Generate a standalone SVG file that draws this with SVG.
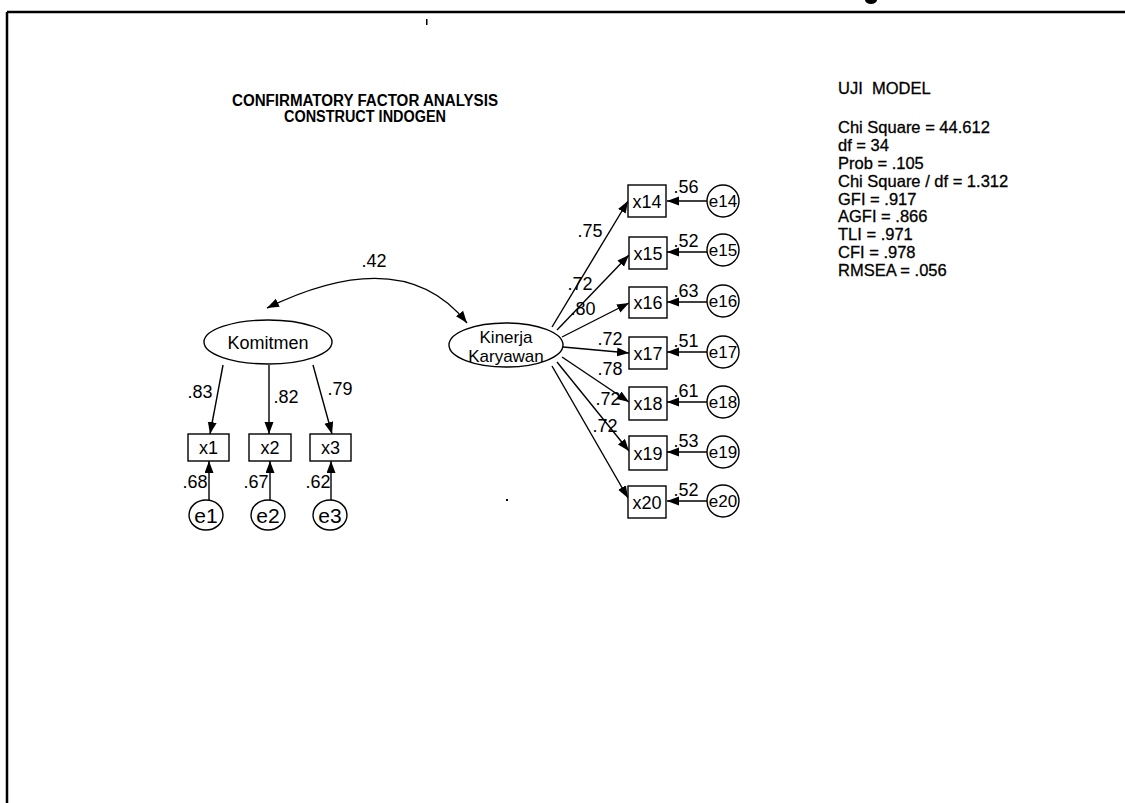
<svg xmlns="http://www.w3.org/2000/svg" width="1125" height="803" viewBox="0 0 1125 803">
  <style>
    text { font-family: "Liberation Sans", Arial, sans-serif; fill: #000; }
    .title { font-size: 16px; font-weight: bold; text-anchor: middle; }
    .info { font-size: 16.5px; stroke: #000; stroke-width: 0.3; }
    .lbl { font-size: 18px; text-anchor: middle; }
    .node { font-size: 18px; text-anchor: middle; }
    .err { font-size: 17px; text-anchor: middle; }
    .errbig { font-size: 21px; text-anchor: middle; }
    .shape { fill: #fff; stroke: #000; stroke-width: 1.4; }
    .link { fill: none; stroke: #000; stroke-width: 1.4; marker-end: url(#arrow); }
  </style>
  <defs>
    <marker id="arrow" markerUnits="userSpaceOnUse" markerWidth="13" markerHeight="10" refX="12" refY="4.5" orient="auto-start-reverse">
      <path d="M0,0 L12,4.5 L0,9 z" fill="#000"/>
    </marker>
  </defs>

  <rect width="1125" height="803" fill="#fff"/>

  <!-- page frame -->
  <g id="frame" stroke="#000" stroke-width="2.5" fill="none">
    <line x1="7" y1="12" x2="1125" y2="12"/>
    <line x1="7" y1="12" x2="7" y2="803"/>
  </g>
  <g id="specks" fill="#000">
    <ellipse cx="871" cy="0" rx="6" ry="4"/>
    <rect x="426" y="19" width="1.5" height="6"/>
    <rect x="506" y="499" width="2" height="2"/>
  </g>

  <!-- heading -->
  <text class="title" x="365" y="106" textLength="266" lengthAdjust="spacingAndGlyphs">CONFIRMATORY FACTOR ANALYSIS</text>
  <text class="title" x="365" y="122" textLength="162" lengthAdjust="spacingAndGlyphs">CONSTRUCT INDOGEN</text>

  <!-- fit statistics -->
  <g id="fit">
    <text class="info" x="838" y="94" xml:space="preserve">UJI  MODEL</text>
    <text class="info" x="838" y="133">Chi Square = 44.612</text>
    <text class="info" x="838" y="151">df = 34</text>
    <text class="info" x="838" y="169">Prob = .105</text>
    <text class="info" x="838" y="187">Chi Square / df = 1.312</text>
    <text class="info" x="838" y="205">GFI = .917</text>
    <text class="info" x="838" y="222">AGFI = .866</text>
    <text class="info" x="838" y="240">TLI = .971</text>
    <text class="info" x="838" y="258">CFI = .978</text>
    <text class="info" x="838" y="276">RMSEA = .056</text>
  </g>

  <!-- connectors -->
  <g id="connectors">
    <path class="link" d="M467,323 Q403,242 267,308" style="marker-start:url(#arrow)"/>
    <line class="link" x1="223" y1="365" x2="210" y2="434"/>
    <line class="link" x1="269" y1="365" x2="269" y2="434"/>
    <line class="link" x1="313" y1="365" x2="332" y2="434"/>
    <line class="link" x1="209" y1="500" x2="209" y2="461"/>
    <line class="link" x1="270" y1="500" x2="270" y2="461"/>
    <line class="link" x1="331" y1="500" x2="331" y2="461"/>
    <line class="link" x1="552" y1="327" x2="628" y2="201"/>
    <line class="link" x1="557" y1="330" x2="629" y2="255"/>
    <line class="link" x1="562" y1="337" x2="629" y2="303"/>
    <line class="link" x1="563" y1="347" x2="629" y2="353"/>
    <line class="link" x1="562" y1="357" x2="629" y2="402"/>
    <line class="link" x1="557" y1="362" x2="629" y2="451"/>
    <line class="link" x1="552" y1="366" x2="628" y2="498"/>
    <line class="link" x1="707" y1="201" x2="667" y2="201"/>
    <line class="link" x1="707" y1="252" x2="667" y2="252"/>
    <line class="link" x1="707" y1="302" x2="667" y2="302"/>
    <line class="link" x1="707" y1="352" x2="667" y2="352"/>
    <line class="link" x1="707" y1="402" x2="667" y2="402"/>
    <line class="link" x1="707" y1="452" x2="667" y2="452"/>
    <line class="link" x1="707" y1="501" x2="667" y2="501"/>
  </g>

  <!-- path coefficients -->
  <g id="coefficients">
    <text class="lbl" x="374" y="267">.42</text>
    <text class="lbl" x="200" y="398">.83</text>
    <text class="lbl" x="286" y="403">.82</text>
    <text class="lbl" x="340" y="395">.79</text>
    <text class="lbl" x="195" y="488">.68</text>
    <text class="lbl" x="256" y="488">.67</text>
    <text class="lbl" x="318" y="488">.62</text>
    <text class="lbl" x="590" y="237">.75</text>
    <text class="lbl" x="580" y="290">.72</text>
    <text class="lbl" x="583" y="315">.80</text>
    <text class="lbl" x="610" y="345">.72</text>
    <text class="lbl" x="610" y="375">.78</text>
    <text class="lbl" x="608" y="405">.72</text>
    <text class="lbl" x="605" y="432">.72</text>
    <text class="lbl" x="686" y="193">.56</text>
    <text class="lbl" x="686" y="247">.52</text>
    <text class="lbl" x="686" y="297">.63</text>
    <text class="lbl" x="686" y="347">.51</text>
    <text class="lbl" x="686" y="397">.61</text>
    <text class="lbl" x="686" y="447">.53</text>
    <text class="lbl" x="686" y="496">.52</text>
  </g>

  <!-- latent constructs -->
  <g id="komitmen">
    <ellipse class="shape" cx="268" cy="342" rx="64" ry="22"/>
    <text class="node" x="268" y="349">Komitmen</text>
  </g>
  <g id="kinerja">
    <ellipse class="shape" cx="506" cy="345" rx="57" ry="22"/>
    <text class="node" x="506" y="343" style="font-size:17px">Kinerja</text>
    <text class="node" x="506" y="362" style="font-size:17px">Karyawan</text>
  </g>

  <!-- Komitmen indicators -->
  <g id="x1"><rect class="shape" x="188" y="434" width="41" height="27"/><text class="node" x="208.5" y="454">x1</text></g>
  <g id="x2"><rect class="shape" x="249" y="434" width="42" height="27"/><text class="node" x="270" y="454">x2</text></g>
  <g id="x3"><rect class="shape" x="310" y="434" width="41" height="27"/><text class="node" x="330.5" y="454">x3</text></g>
  <g id="e1"><ellipse class="shape" cx="206" cy="515" rx="17" ry="15"/><text class="errbig" x="206" y="523">e1</text></g>
  <g id="e2"><ellipse class="shape" cx="268" cy="515" rx="17" ry="15"/><text class="errbig" x="268" y="523">e2</text></g>
  <g id="e3"><ellipse class="shape" cx="330" cy="515" rx="17" ry="15"/><text class="errbig" x="330" y="523">e3</text></g>

  <!-- Kinerja Karyawan indicators -->
  <g id="x14"><rect class="shape" x="628" y="185" width="38" height="32"/><text class="node" x="647" y="208">x14</text></g>
  <g id="x15"><rect class="shape" x="629" y="237" width="38" height="32"/><text class="node" x="648" y="260">x15</text></g>
  <g id="x16"><rect class="shape" x="629" y="287" width="38" height="31"/><text class="node" x="648" y="309">x16</text></g>
  <g id="x17"><rect class="shape" x="629" y="337" width="38" height="32"/><text class="node" x="648" y="360">x17</text></g>
  <g id="x18"><rect class="shape" x="629" y="387" width="38" height="33"/><text class="node" x="648" y="410">x18</text></g>
  <g id="x19"><rect class="shape" x="629" y="436" width="38" height="34"/><text class="node" x="648" y="460">x19</text></g>
  <g id="x20"><rect class="shape" x="628" y="486" width="38" height="32"/><text class="node" x="647" y="509">x20</text></g>

  <g id="e14"><circle class="shape" cx="723" cy="201" r="16"/><text class="err" x="723" y="207">e14</text></g>
  <g id="e15"><circle class="shape" cx="723" cy="250" r="16"/><text class="err" x="723" y="256">e15</text></g>
  <g id="e16"><circle class="shape" cx="723" cy="301" r="16"/><text class="err" x="723" y="307">e16</text></g>
  <g id="e17"><circle class="shape" cx="723" cy="352" r="16"/><text class="err" x="723" y="358">e17</text></g>
  <g id="e18"><circle class="shape" cx="723" cy="402" r="16"/><text class="err" x="723" y="408">e18</text></g>
  <g id="e19"><circle class="shape" cx="723" cy="452" r="16"/><text class="err" x="723" y="458">e19</text></g>
  <g id="e20"><circle class="shape" cx="723" cy="501" r="16"/><text class="err" x="723" y="507">e20</text></g>
</svg>
